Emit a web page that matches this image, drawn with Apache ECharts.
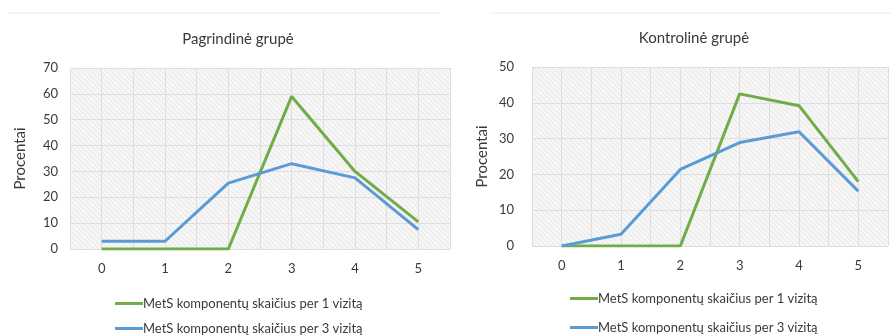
<!DOCTYPE html>
<html>
<head>
<meta charset="utf-8">
<script src="https://cdn.jsdelivr.net/npm/echarts@6/dist/echarts.min.js"></script>
<style>
  html, body { margin: 0; padding: 0; background: #fff; }
  #chart { width: 891px; height: 335px; }
</style>
</head>
<body>
<div id="chart"></div>
<script>
// data
var categories = [0, 1, 2, 3, 4, 5];
var seriesNames = ['MetS komponentų skaičius per 1 vizitą', 'MetS komponentų skaičius per 3 vizitą'];
var mainVisit1 = [0, 0, 0, 59, 30, 10.5];
var mainVisit3 = [3, 3, 25.5, 33, 27.5, 7.5];
var ctrlVisit1 = [0, 0, 0, 42.5, 39.2, 18];
var ctrlVisit3 = [0, 3.3, 21.4, 28.9, 31.9, 15.3];

function pairs(vals) {
  return categories.map(function (c, i) { return [c, vals[i]]; });
}

// hatched plot background
var hatch = document.createElement('canvas');
hatch.width = 5; hatch.height = 5;
var hc = hatch.getContext('2d');
hc.fillStyle = '#f6f6f6';
hc.fillRect(0, 0, 5, 5);
hc.strokeStyle = '#e6e6e6';
hc.lineWidth = 1;
hc.beginPath();
hc.moveTo(-1, -1); hc.lineTo(6, 6);
hc.moveTo(-1, 4); hc.lineTo(1, 6);
hc.moveTo(4, -1); hc.lineTo(6, 1);
hc.stroke();

var chart = echarts.init(document.getElementById('chart'));
var font = 'Lato';
var green = '#70ad47', blue = '#5b9bd5';

function xAxis(idx) {
  return {
    type: 'value', gridIndex: idx, min: -0.5, max: 5.5, interval: 0.5,
    axisLine: { show: false }, axisTick: { show: false },
    axisLabel: {
      margin: 13, fontFamily: font, fontSize: 13, color: '#3a3a3a',
      formatter: function (v) { return Number.isInteger(v) && v >= 0 && v <= 5 ? String(v) : ''; }
    },
    splitLine: { show: true, lineStyle: { color: '#dedede', width: 1 } }
  };
}
function yAxis(idx, max, margin) {
  return {
    type: 'value', gridIndex: idx, min: 0, max: max, interval: 10,
    name: 'Procentai', nameLocation: 'middle', nameGap: 42, nameRotate: 90,
    nameTextStyle: { fontFamily: font, fontSize: 15, color: '#3a3a3a' },
    axisLine: { show: false }, axisTick: { show: false },
    axisLabel: { margin: margin, fontFamily: font, fontSize: 13, color: '#3a3a3a' },
    splitLine: { show: true, lineStyle: { color: '#dedede', width: 1 } }
  };
}
function line(name, color, data, idx) {
  return {
    name: name, type: 'line', xAxisIndex: idx, yAxisIndex: idx,
    data: pairs(data), symbol: 'none', silent: true,
    lineStyle: { color: color, width: 3 }, itemStyle: { color: color }
  };
}
function legend(name, left, top) {
  return {
    left: left, top: top, data: [name], padding: 0,
    icon: 'rect', itemWidth: 28, itemHeight: 3,
    selectedMode: false,
    textStyle: { fontFamily: font, fontSize: 13, color: '#3a3a3a', padding: [0, 0, 0, -5] }
  };
}

var option = {
  animation: false,
  backgroundColor: '#fff',
  color: [green, blue],
  title: [
    { text: 'Pagrindinė grupė', left: 233, top: 27, textAlign: 'center',
      textStyle: { fontFamily: font, fontSize: 15, fontWeight: 'normal', color: '#3a3a3a' } },
    { text: 'Kontrolinė grupė', left: 689, top: 26, textAlign: 'center',
      textStyle: { fontFamily: font, fontSize: 15, fontWeight: 'normal', color: '#3a3a3a' } }
  ],
  grid: [
    { left: 70, top: 68, width: 380, height: 181, show: true, borderWidth: 0,
      backgroundColor: { image: hatch, repeat: 'repeat' } },
    { left: 532, top: 67, width: 368, height: 179, show: true, borderWidth: 0,
      backgroundColor: { image: hatch, repeat: 'repeat' } }
  ],
  xAxis: [xAxis(0), xAxis(1)],
  yAxis: [yAxis(0, 70, 12), yAxis(1, 50, 18)],
  legend: [
    legend(seriesNames[0], 115, 297),
    legend(seriesNames[1], 115, 322),
    legend(seriesNames[0], 570, 292),
    legend(seriesNames[1], 570, 321)
  ],
  series: [
    line(seriesNames[0], green, mainVisit1, 0),
    line(seriesNames[1], blue, mainVisit3, 0),
    line(seriesNames[0], green, ctrlVisit1, 1),
    line(seriesNames[1], blue, ctrlVisit3, 1)
  ],
  graphic: [
    { type: 'line', shape: { x1: 8, y1: 13, x2: 440, y2: 13 }, style: { stroke: '#ececec', lineWidth: 1 } },
    { type: 'line', shape: { x1: 490, y1: 13, x2: 891, y2: 13 }, style: { stroke: '#ececec', lineWidth: 1 } }
  ]
};
chart.setOption(option);
</script>
</body>
</html>
